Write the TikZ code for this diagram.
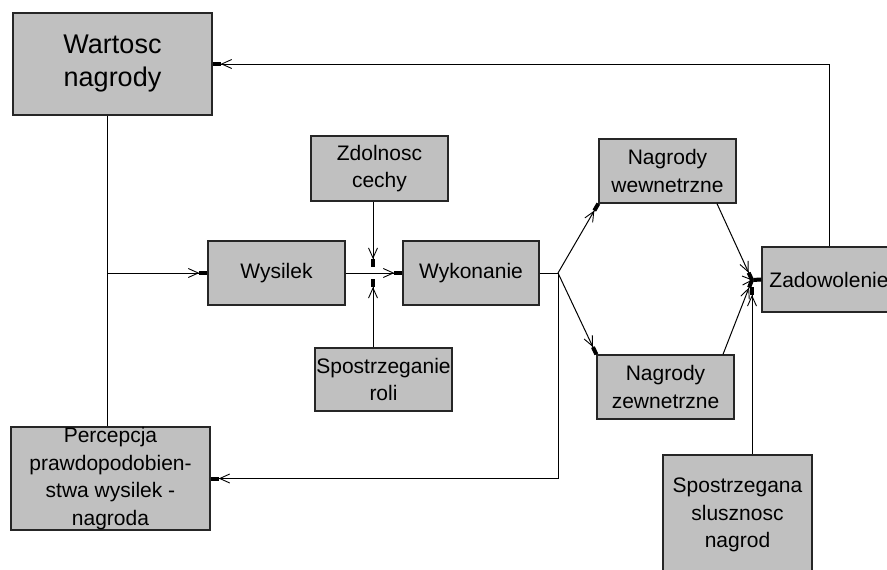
\documentclass[tikz,border=0pt]{standalone}
\usepackage{fontspec}
\setmainfont{Liberation Sans}
\usetikzlibrary{arrows.meta}
\usetikzlibrary{calc}

\definecolor{szary}{RGB}{192,192,192}

\begin{document}
\begin{tikzpicture}[x=1pt,y=-1pt,
    blok/.style={draw=black!85, line width=1.3pt, fill=szary, inner sep=0pt, align=center,
        font=\fontsize{21}{27.7}\selectfont},
    strz/.style={-{Straight Barb[length=10pt,width=9pt,line width=0.9pt]Rectangle[length=8pt,width=4pt]}, line width=1pt},
    linia/.style={line width=1pt}]
            \clip (0,0) rectangle (887,570);
            \fill [white] (0,0) rectangle (887,570);
            % bloki
            \node [blok, minimum width=199pt, minimum height=102pt, font=\fontsize{27}{33}\selectfont] (wartosc) at (112.5,64) {Wartosc\\nagrody};
            \node [blok, minimum width=137pt, minimum height=64pt] (wysilek) at (276.5,273) {Wysilek};
            \node [blok, minimum width=137pt, minimum height=65pt] (zdol) at (379.5,168.5) {Zdolnosc\\cechy};
            \node [blok, minimum width=137pt, minimum height=63pt] (rola) at (383.5,379.5) {Spostrzeganie\\roli};
            \node [blok, minimum width=136pt, minimum height=64pt] (wykon) at (471,273) {Wykonanie};
            \node [blok, minimum width=137pt, minimum height=64pt] (wew) at (667.5,171) {Nagrody\\wewnetrzne};
            \node [blok, minimum width=137pt, minimum height=64pt] (zew) at (665.5,387) {Nagrody\\zewnetrzne};
            \node [blok, minimum width=134pt, minimum height=65pt] (zad) at (829,279.5) {Zadowolenie};
            \node [blok, minimum width=149pt, minimum height=120pt] (slusz) at (737.5,515) {Spostrzegana\\slusznosc\\nagrod};
            \node [blok, minimum width=199pt, minimum height=103pt] (perc) at (110.5,478.5) {Percepcja\\prawdopodobien-\\stwa wysilek -\\nagroda};
            % punkty
            \coordinate (pion) at ([xshift=-5.5pt]wartosc.south);
            \coordinate (nad) at (373,267);
            \coordinate (pod) at (373,279);
            \coordinate (wezel) at (558,273);
            \coordinate (zbieg) at (752,280);
            \coordinate (zbieg2) at (752,287);
            % polaczenia
            \draw [linia] (pion) -- (pion |- perc.north);
            \draw [strz] (pion |- wysilek.west) -- (wysilek.west);
            \draw [strz] (wysilek.east) -- (wykon.west);
            \draw [strz] (nad |- zdol.south) -- (nad);
            \draw [strz] (pod |- rola.north) -- (pod);
            \draw [linia] (wykon.east) -- (wezel);
            \draw [strz] (wezel) -- (wew.south west);
            \draw [strz] (wezel) -- (zew.north west);
            \draw [strz] (wezel) |- (perc.east);
            \draw [strz] ([xshift=49.5pt]wew.south) -- (zbieg);
            \draw [strz] ([xshift=57.5pt]zew.north) -- (zbieg);
            \draw [strz] ([xshift=14.5pt]slusz.north) -- (zbieg2);
            \draw [strz] (zbieg) -- (zad.west);
            \draw [strz] (zad.north) |- (wartosc.east);
        \end{tikzpicture}
\end{document}
